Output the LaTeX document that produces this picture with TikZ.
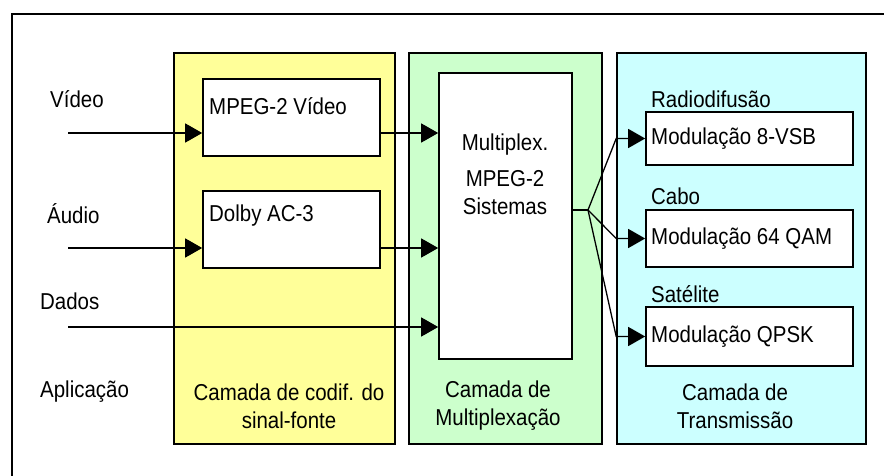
\documentclass[tikz,border=0pt]{standalone}
\usepackage{fontspec}
\setmainfont{Liberation Sans}[FakeStretch=0.89]
\usetikzlibrary{arrows.meta}
\usetikzlibrary{positioning}

\definecolor{camA}{RGB}{255,255,153}
\definecolor{camB}{RGB}{204,255,204}
\definecolor{camC}{RGB}{204,255,255}

\tikzset{
  camada/.style={draw, line width=1.6pt},
  bloco/.style={draw, fill=white, line width=1.6pt, inner sep=0},
  seta/.style={line width=1.3pt, -{Triangle[length=17pt,width=19pt]}},
  txt/.style={inner sep=0, font=\fontsize{23}{28}\selectfont},
}

\begin{document}
\begin{tikzpicture}[x=1pt, y=-1pt]
\useasboundingbox (0,0) rectangle (884,476);
\draw[line width=1.6pt] (12,14) rectangle (900,500);

\foreach \c/\xa/\xb in {camA/174/395, camB/409/602, camC/617/866}
\draw[camada, fill=\c] (\xa,53) rectangle (\xb,444);

\node[bloco, minimum width=177, minimum height=77] (mpeg) at (291.5,117.5) {};
\node[bloco, minimum width=177, minimum height=77] (dolby) at (291.5,229.5) {};
\node[bloco, minimum width=133, minimum height=286] (mux) at (505.5,216) {};
\node[bloco, minimum width=207, minimum height=53] (vsb) at (749.5,138.5) {};
\node[bloco, minimum width=207, minimum height=57] (qam) at (749.5,238.5) {};
\node[bloco, minimum width=207, minimum height=59] (qpsk) at (749.5,336.5) {};

\node[txt, anchor=west] (tmpeg) at (209,106) {MPEG-2 Vídeo};
\node[txt, anchor=west] (tdolby) at (209,216) {Dolby AC-3};
\node[txt, align=center] (tmux) at (505,174) {Multiplex.\\[8pt]MPEG-2\\Sistemas};
\node[txt, anchor=west] (tvsb) at (651,139) {Modulação 8-VSB};
\node[txt, anchor=west] (tqam) at (651,239) {Modulação 64 QAM};
\node[txt, anchor=west] (tqpsk) at (651,337) {Modulação QPSK};
\node[txt, anchor=west] (radio) at (651,99) {Radiodifusão};
\node[txt, anchor=west] (cabo) at (651,196) {Cabo};
\node[txt, anchor=west] (sat) at (651,294) {Satélite};

\node[txt, anchor=west] (video) at (50,99) {Vídeo};
\node[txt, anchor=west] (audio) at (47,214) {Áudio};
\node[txt, anchor=west] (dados) at (40,301) {Dados};
\node[txt, anchor=west] (aplic) at (40,392) {Aplicação};

\node[txt, align=center] (lcodif) at (289,406) {Camada de codif. do\\sinal-fonte};
\node[txt, align=center] (lmult) at (498,406) {Camada de\\Multiplexação};
\node[txt, align=center] (ltrans) at (735,406) {Camada de\\Transmissão};

\coordinate (vin) at (68,133);
\coordinate (ain) at (68,248);
\coordinate (din) at (68,327);
\coordinate (fork) at (588,210);

\foreach \p/\q in {vin/mpeg, ain/dolby} {
  \draw[seta] (\p) -- (\p -| \q.west);
  \draw[seta] (\p -| \q.east) -- (\p -| mux.west);
}
\draw[seta] (din) -- (din -| mux.west);

\draw[line width=1.3pt] (mux.east |- fork) -- (fork);
\foreach \m in {vsb, qam, qpsk}
\draw[seta] (fork) -- ([xshift=-29pt]\m.west) -- (\m.west);

\end{tikzpicture}
\end{document}
